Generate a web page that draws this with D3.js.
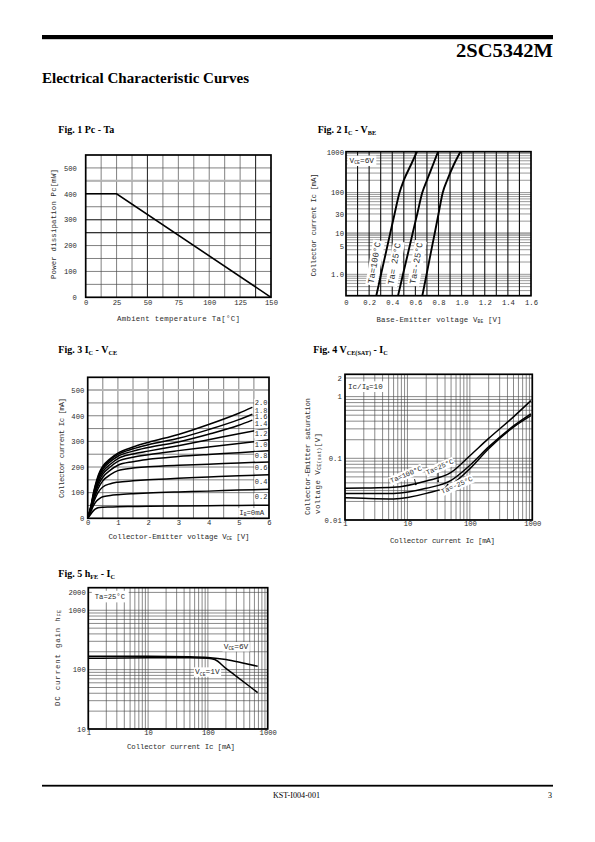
<!DOCTYPE html>
<html><head><meta charset="utf-8"><title>2SC5342M</title>
<script src="https://cdn.jsdelivr.net/npm/d3@7/dist/d3.min.js"></script>
<style>html,body{margin:0;padding:0;background:#fff;}svg{display:block;}</style>
</head><body>
<script>
// ---------------- DATA ----------------
// Fig. 1  Pc - Ta
const fig1XTicks = [0, 25, 50, 75, 100, 125, 150];
const fig1YTicks = [0, 100, 200, 300, 400, 500];
const fig1Ta = [0, 25, 150];
const fig1Pc = [400, 400, 0];

// Fig. 2  Ic - VBE
const fig2XTicks = [0, 0.2, 0.4, 0.6, 0.8, 1.0, 1.2, 1.4, 1.6];
const fig2XLabels = ["0", "0.2", "0.4", "0.6", "0.8", "1.0", "1.2", "1.4", "1.6"];
const fig2YTicks = [1000, 100, 30, 10, 5, 1];
const fig2YLabels = ["1000", "100", "30", "10", "5", "1.0"];
const fig2Ic = [0.3, 1, 3, 10, 30, 100, 200, 500, 1000];
const fig2Vbe100 = [0.262, 0.303, 0.341, 0.382, 0.420, 0.463, 0.500, 0.565, 0.614];
const fig2Vbe25 = [0.450, 0.493, 0.533, 0.576, 0.616, 0.660, 0.700, 0.755, 0.796];
const fig2VbeM25 = [0.660, 0.697, 0.730, 0.767, 0.800, 0.837, 0.875, 0.935, 0.990];
const fig2Names = ["Ta=100°C", "Ta= 25°C", "Ta=-25°C"];

// Fig. 3  Ic - VCE
const fig3XTicks = [0, 1, 2, 3, 4, 5, 6];
const fig3YTicks = [0, 100, 200, 300, 400, 500];
const fig3Vce = [0, 0.1, 0.2, 0.3, 0.4, 0.5, 0.75, 1, 1.5, 2, 3, 4, 5, 6];
const fig3EndVce = [5.45, 5.45, 5.45, 6, 6, 6, 6, 6, 6, 6];
const fig3IbLabels = ["2.0", "1.8", "1.6", "1.4", "1.2", "1.0", "0.8", "0.6", "0.4", "0.2"];
const fig3Ic20 = [0, 45, 105, 150, 182, 203, 233, 254, 278, 296, 327, 366, 410, 433];
const fig3Ic18 = [0, 43, 100, 145, 177, 198, 228, 249, 271, 287, 312, 346, 385, 406];
const fig3Ic16 = [0, 41, 95, 139, 170, 191, 221, 242, 262, 276, 298, 328, 363, 383];
const fig3Ic14 = [0, 39, 90, 132, 162, 182, 211, 233, 251, 262, 283, 306, 330, 352];
const fig3Ic12 = [0, 37, 85, 124, 152, 172, 201, 222, 238, 248, 264, 278, 292, 306];
const fig3Ic10 = [0, 35, 80, 115, 141, 160, 188, 207, 221, 230, 241, 249, 256, 264];
const fig3Ic08 = [0, 33, 73, 104, 128, 146, 170, 186, 196, 201, 207, 211, 216, 220];
const fig3Ic06 = [0, 30, 64, 91, 110, 122, 135, 141, 146, 150, 156, 161, 166, 170];
const fig3Ic04 = [0, 25, 51, 68, 78, 84, 89, 92, 96, 99, 103, 106, 110, 113];
const fig3Ic02 = [0, 16, 31, 39, 42, 43, 44, 45, 46, 47, 48, 49, 50, 51];

// Fig. 4  VCE(sat) - Ic
const fig4XTicks = [1, 10, 100, 1000];
const fig4XLabels = ["1", "10", "100", "1000"];
const fig4YTicks = [0.01, 0.1, 1, 2];
const fig4YLabels = ["0.01", "0.1", "1", "2"];
const fig4Ic = [1, 2, 6, 20, 50, 100, 200, 500, 950];
const fig4Vsat100 = [0.0326, 0.033, 0.034, 0.043, 0.059, 0.110, 0.210, 0.470, 0.860];
const fig4Vsat25 = [0.027, 0.027, 0.027, 0.0326, 0.044, 0.077, 0.153, 0.335, 0.525];
const fig4VsatM25 = [0.023, 0.0225, 0.022, 0.027, 0.037, 0.068, 0.143, 0.320, 0.490];
const fig4Names = ["Ta=100°C", "Ta=25°C", "Ta=-25°C"];

// Fig. 5  hFE - Ic
const fig5XTicks = [1, 10, 100, 1000];
const fig5XLabels = ["1", "10", "100", "1000"];
const fig5YTicks = [10, 100, 1000, 2000];
const fig5YLabels = ["10", "100", "1000", "2000"];
const fig5Ic6V = [1, 10, 50, 100, 200, 400, 680];
const fig5Hfe6V = [168, 168, 165, 160, 148, 128, 114];
const fig5Ic1V = [1, 10, 50, 100, 130, 200, 300, 500, 680];
const fig5Hfe1V = [155, 158, 158, 155, 148, 105, 77, 52, 41];

// ---------------- DRAWING ----------------
const MONO = "'Liberation Mono','DejaVu Sans Mono',monospace";
const SERIF = "'Liberation Serif','Times New Roman',serif";
const INK = "#2b2b2b";
const svg = d3.select("body").append("svg").attr("width", 595).attr("height", 842);
svg.append("rect").attr("width", 595).attr("height", 842).attr("fill", "#fff");

function rich(sel, str, fs) {
  const parts = str.split(/(_\{[^}]*\})/).filter(s => s.length);
  let shifted = false;
  parts.forEach(p => {
    const m = p.match(/^_\{(.*)\}$/);
    const ts = sel.append("tspan");
    if (m) { ts.text(m[1]).attr("font-size", fs * 0.62).attr("dy", fs * 0.2); shifted = true; }
    else { ts.text(p); if (shifted) { ts.attr("dy", -fs * 0.2); shifted = false; } }
  });
  return sel;
}

// header / footer
svg.append("rect").attr("x", 42).attr("y", 35).attr("width", 511).attr("height", 4.2).attr("fill", "#000");
svg.append("text").attr("x", 553).attr("y", 57).attr("text-anchor", "end")
  .attr("font-family", SERIF).attr("font-weight", "bold").attr("font-size", 18)
  .attr("textLength", 97).attr("lengthAdjust", "spacingAndGlyphs").text("2SC5342M");
svg.append("text").attr("x", 42).attr("y", 83).attr("font-family", SERIF).attr("font-weight", "bold")
  .attr("font-size", 14).attr("textLength", 207).attr("lengthAdjust", "spacingAndGlyphs")
  .text("Electrical Characteristic Curves");
svg.append("rect").attr("x", 42).attr("y", 784.8).attr("width", 511).attr("height", 1.8).attr("fill", "#000");
svg.append("text").attr("x", 296.5).attr("y", 797.5).attr("text-anchor", "middle").attr("font-family", SERIF)
  .attr("font-size", 8).attr("textLength", 47).attr("lengthAdjust", "spacingAndGlyphs").text("KST-I004-001");
svg.append("text").attr("x", 552).attr("y", 797.5).attr("text-anchor", "end").attr("font-family", SERIF)
  .attr("font-size", 8).text("3");

function figTitle(x, y, str) {
  const t = svg.append("text").attr("x", x).attr("y", y).attr("font-family", SERIF)
    .attr("font-weight", "bold").attr("font-size", 10).attr("fill", "#000");
  rich(t, str, 10);
}
figTitle(58.3, 133, "Fig. 1 Pc - Ta");
figTitle(317.7, 133, "Fig. 2 I_{C} - V_{BE}");
figTitle(58.3, 352.7, "Fig. 3 I_{C} - V_{CE}");
figTitle(313.3, 352.7, "Fig. 4 V_{CE(SAT)} - I_{C}");
figTitle(58.3, 576.7, "Fig. 5 h_{FE} - I_{C}");

function panel(box, xLog, xDom, yLog, yDom) {
  const x = (xLog ? d3.scaleLog() : d3.scaleLinear()).domain(xDom).range([box.x0, box.x1]);
  const y = (yLog ? d3.scaleLog() : d3.scaleLinear()).domain(yDom).range([box.y1, box.y0]);
  const g = svg.append("g");
  return { x, y, g, box };
}
function grid(p, xv, yv, color, w) {
  const b = p.box;
  p.g.append("g").selectAll("line").data(xv).join("line")
    .attr("x1", d => p.x(d)).attr("x2", d => p.x(d)).attr("y1", b.y0).attr("y2", b.y1)
    .attr("stroke", color).attr("stroke-width", w);
  p.g.append("g").selectAll("line").data(yv).join("line")
    .attr("y1", d => p.y(d)).attr("y2", d => p.y(d)).attr("x1", b.x0).attr("x2", b.x1)
    .attr("stroke", color).attr("stroke-width", w);
}
function hline(p, v, color, w) {
  p.g.append("line").attr("x1", p.box.x0).attr("x2", p.box.x1).attr("y1", p.y(v)).attr("y2", p.y(v))
    .attr("stroke", color).attr("stroke-width", w);
}
function vline(p, v, color, w) {
  p.g.append("line").attr("y1", p.box.y0).attr("y2", p.box.y1).attr("x1", p.x(v)).attr("x2", p.x(v))
    .attr("stroke", color).attr("stroke-width", w);
}
function border(p) {
  const b = p.box;
  p.g.append("rect").attr("x", b.x0).attr("y", b.y0).attr("width", b.x1 - b.x0).attr("height", b.y1 - b.y0)
    .attr("fill", "none").attr("stroke", "#000").attr("stroke-width", 1.7);
}
function axes(p, xt, xl, xpad, yt, yl, ypad) {
  const gx = p.g.append("g").attr("transform", `translate(0,${p.box.y1})`)
    .call(d3.axisBottom(p.x).tickValues(xt).tickFormat((d, i) => xl[i]).tickSize(0).tickPadding(xpad));
  const gy = p.g.append("g").attr("transform", `translate(${p.box.x0},0)`)
    .call(d3.axisLeft(p.y).tickValues(yt).tickFormat((d, i) => yl[i]).tickSize(0).tickPadding(ypad));
  [gx, gy].forEach(a => {
    a.select(".domain").remove();
    a.selectAll("text").attr("font-family", MONO).attr("font-size", 7.2).attr("fill", INK);
  });
}
function xTitle(cx, by, len, str) {
  const t = svg.append("text").attr("x", cx).attr("y", by).attr("text-anchor", "middle")
    .attr("font-family", MONO).attr("font-size", 7.4).attr("fill", INK)
    .attr("textLength", len).attr("lengthAdjust", "spacing");
  rich(t, str, 7.4);
}
function yTitle(cx, cy, len, str, anchor) {
  const t = svg.append("text").attr("transform", `translate(${cx},${cy}) rotate(-90)`)
    .attr("text-anchor", anchor || "middle").attr("dominant-baseline", "central")
    .attr("font-family", MONO).attr("font-size", 7.4).attr("fill", INK)
    .attr("textLength", len).attr("lengthAdjust", "spacing");
  rich(t, str, 7.4);
}
function tag(g, str, cx, cy, angle, fs, pad, anchor) {
  const t = g.append("g").attr("transform", `translate(${cx},${cy}) rotate(${angle || 0})`);
  const r = t.append("rect").attr("fill", "#fff");
  const txt = t.append("text").attr("font-family", MONO).attr("font-size", fs)
    .attr("text-anchor", anchor || "middle").attr("dominant-baseline", "central").attr("fill", INK);
  rich(txt, str, fs);
  const bb = txt.node().getBBox();
  r.attr("x", bb.x - pad).attr("y", bb.y - pad * 0.6).attr("width", bb.width + 2 * pad).attr("height", bb.height + pad * 1.2);
  return t;
}
function curve(p, xs, ys, w) {
  p.g.append("path").datum(xs.map((v, i) => [v, ys[i]]))
    .attr("d", d3.line().x(d => p.x(d[0])).y(d => p.y(d[1])).curve(d3.curveMonotoneX))
    .attr("fill", "none").attr("stroke", "#000").attr("stroke-width", w).attr("stroke-linejoin", "round");
}

// ---- Fig 1 ----
{
  const p = panel({ x0: 85.7, x1: 271, y0: 155, y1: 297.3 }, false, [0, 150], false, [0, 550]);
  grid(p, d3.range(12.5, 150, 12.5), d3.range(50, 550, 50), "#4a4a4a", 0.7);
  hline(p, 450, "#b5b5b5", 2);
  vline(p, 50, "#333", 1.1); vline(p, 137.5, "#333", 1.1);
  hline(p, 300, "#333", 1.1); hline(p, 250, "#333", 1.1);
  p.g.append("path").datum(fig1Ta.map((v, i) => [v, fig1Pc[i]]))
    .attr("d", d3.line().x(d => p.x(d[0])).y(d => p.y(d[1])))
    .attr("fill", "none").attr("stroke", "#000").attr("stroke-width", 1.6);
  border(p);
  axes(p, fig1XTicks, fig1XTicks.map(String), 2.6, fig1YTicks, fig1YTicks.map(String), 8.8);
  xTitle(178.4, 321, 123, "Ambient temperature Ta[°C]");
  yTitle(54, 224, 110, "Power dissipation Pc[mW]");
}

// ---- Fig 2 ----
{
  const p = panel({ x0: 346, x1: 531, y0: 151.7, y1: 295.7 }, false, [0, 1.6], true, [0.3, 1000]);
  grid(p, [], p.y.ticks(), "#555", 0.6);
  hline(p, 10, "#a8a8a8", 2.4);
  grid(p, d3.range(1, 16).map(v => v / 10), [], "#111", 1.1);
  curve(p, fig2Vbe100, fig2Ic, 1.9);
  curve(p, fig2Vbe25, fig2Ic, 1.9);
  curve(p, fig2VbeM25, fig2Ic, 1.9);
  tag(p.g, fig2Names[0], p.x(0.252), p.y(1.9), -80, 8.8, 1.6);
  tag(p.g, fig2Names[1], p.x(0.425), p.y(1.8), -80, 8.8, 1.6);
  tag(p.g, fig2Names[2], p.x(0.614), p.y(1.85), -80, 8.8, 1.6);
  tag(p.g, "V_{CE}=6V", p.box.x0 + 3.5, p.y(600), 0, 7.8, 2, "start");
  border(p);
  axes(p, fig2XTicks, fig2XLabels, 4.3, fig2YTicks, fig2YLabels, 2);
  xTitle(439, 322, 125, "Base-Emitter voltage V_{BE} [V]");
  yTitle(314, 225, 103, "Collector current Ic [mA]");
}

// ---- Fig 3 ----
{
  const p = panel({ x0: 87.7, x1: 269, y0: 377.3, y1: 518.3 }, false, [0, 6], false, [0, 550]);
  grid(p, d3.range(0.5, 6, 0.5), d3.range(50, 550, 50), "#4a4a4a", 0.7);
  hline(p, 500, "#b5b5b5", 2);
  const series = [fig3Ic20, fig3Ic18, fig3Ic16, fig3Ic14, fig3Ic12, fig3Ic10, fig3Ic08, fig3Ic06, fig3Ic04, fig3Ic02];
  series.forEach((s, k) => {
    const xs = fig3Vce.slice(); xs[xs.length - 1] = fig3EndVce[k];
    curve(p, xs, s, 1.5);
  });
  series.forEach((s, k) => {
    const last = s[s.length - 1];
    const above = k === 0 ? last + 32 : series[k - 1][series[k - 1].length - 1];
    tag(p.g, fig3IbLabels[k], p.x(5.53), p.y((last + above) / 2), 0, 7, 0.6, "start");
  });
  tag(p.g, "I_{B}=0mA", p.x(5.84), p.y(22), 0, 7.4, 1, "end");
  border(p);
  axes(p, fig3XTicks, fig3XTicks.map(String), 1.7, fig3YTicks, fig3YTicks.map(String), 3.4);
  xTitle(179, 539, 141, "Collector-Emitter voltage V_{CE} [V]");
  yTitle(61.5, 448, 100, "Collector current Ic [mA]");
}

// ---- Fig 4 ----
{
  const p = panel({ x0: 345, x1: 532.3, y0: 374.3, y1: 520 }, true, [1, 1000], true, [0.01, 2.3]);
  grid(p, p.x.ticks(), p.y.ticks(), "#4a4a4a", 0.65);
  tag(p.g, "Ic/I_{B}=10", p.box.x0 + 3, p.y(1.45), 0, 7.6, 2.2, "start");
  curve(p, fig4Ic, fig4Vsat100, 1.5);
  curve(p, fig4Ic, fig4Vsat25, 1.5);
  curve(p, fig4Ic, fig4VsatM25, 1.5);
  tag(p.g, fig4Names[0], p.x(9.5), p.y(0.054), -23, 7, 0.8);
  tag(p.g, fig4Names[1], p.x(33), p.y(0.072), -24, 7, 0.8);
  tag(p.g, fig4Names[2], p.x(62), p.y(0.0365), -24, 7, 0.8);
  const arrows = [[13, 0.046, 13.6, 0.0378], [31, 0.058, 31, 0.0425], [40, 0.0335, 44, 0.0375]];
  arrows.forEach(a => {
    p.g.append("line").attr("x1", p.x(a[0])).attr("y1", p.y(a[1])).attr("x2", p.x(a[2])).attr("y2", p.y(a[3]))
      .attr("stroke", "#000").attr("stroke-width", 0.9);
    p.g.append("circle").attr("cx", p.x(a[2])).attr("cy", p.y(a[3])).attr("r", 0.9).attr("fill", "#000");
  });
  border(p);
  axes(p, fig4XTicks, fig4XLabels, 0.6, fig4YTicks, fig4YLabels, 3.3);
  xTitle(442.5, 542.5, 105, "Collector current Ic [mA]");
  yTitle(307.5, 515, 117, "Collector-Emitter saturation", "start");
  yTitle(317.5, 514, 81, "voltage V_{CE(sat)}[V]", "start");
}

// ---- Fig 5 ----
{
  const p = panel({ x0: 88.3, x1: 267.7, y0: 587.7, y1: 729 }, true, [1, 1000], true, [10, 2400]);
  grid(p, p.x.ticks(), p.y.ticks(), "#4a4a4a", 0.65);
  tag(p.g, "Ta=25°C", p.box.x0 + 6.5, p.y(1700), 0, 7.2, 3, "start");
  curve(p, fig5Ic6V, fig5Hfe6V, 1.5);
  curve(p, fig5Ic1V, fig5Hfe1V, 1.5);
  tag(p.g, "V_{CE}=6V", p.x(295), p.y(243), 0, 7.8, 1.2);
  tag(p.g, "V_{CE}=1V", p.x(98), p.y(91), 0, 7.8, 1.2);
  border(p);
  axes(p, fig5XTicks, fig5XLabels, 1, fig5YTicks, fig5YLabels, 2.6);
  xTitle(181, 749, 108, "Collector current Ic [mA]");
  yTitle(58, 658, 96, "DC current gain h_{FE}");
}
</script>
</body></html>
